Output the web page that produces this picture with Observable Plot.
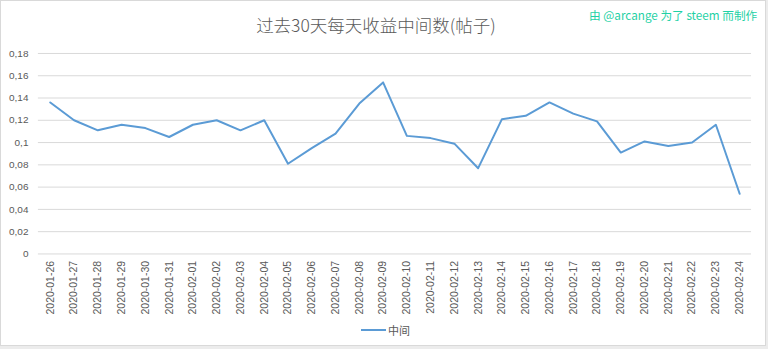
<!DOCTYPE html>
<html>
<head>
<meta charset="utf-8">
<script src="https://cdn.jsdelivr.net/npm/d3@7"></script>
<script src="https://cdn.jsdelivr.net/npm/@observablehq/plot@0.6"></script>
<style>
  html, body { margin: 0; padding: 0; background: #ececec; }
  #wrap { position: relative; width: 766px; height: 346px; background: #fff; overflow: hidden; }
  #frame { position: absolute; left: 0; top: 0; width: 766px; height: 346px; box-sizing: border-box; border: 1px solid #d9d9d9; pointer-events: none; }
  #title { position: absolute; left: 0; top: 13px; width: 752px; text-align: center; font: 300 17.5px "Noto Sans CJK SC", sans-serif; line-height: 24px; color: #595959; }
  #credit { position: absolute; left: 589px; top: 6px; font: 11.7px "Noto Sans CJK SC", sans-serif; line-height: 18px; color: #1fd1a5; white-space: pre; }
  #chart { position: absolute; left: 0; top: 40px; }
  #legend { position: absolute; left: 0; top: 315px; width: 771px; height: 30px; display: flex; justify-content: center; align-items: center; font: 11px "Noto Sans CJK SC", sans-serif; color: #595959; }
  #legend .sw { width: 25px; height: 2px; background: #5b9bd5; margin-right: 2px; }
</style>
</head>
<body>
<div id="wrap">
  <div id="title">过去30天每天收益中间数(帖子)</div>
  <div id="credit">由 @arcange 为了 steem 而制作</div>
  <div id="chart"></div>
  <div id="legend"><span class="sw"></span><span>中间</span></div>
  <div id="frame"></div>
</div>
<script>
const dates = [
  "2020-01-26","2020-01-27","2020-01-28","2020-01-29","2020-01-30","2020-01-31",
  "2020-02-01","2020-02-02","2020-02-03","2020-02-04","2020-02-05","2020-02-06",
  "2020-02-07","2020-02-08","2020-02-09","2020-02-10","2020-02-11","2020-02-12",
  "2020-02-13","2020-02-14","2020-02-15","2020-02-16","2020-02-17","2020-02-18",
  "2020-02-19","2020-02-20","2020-02-21","2020-02-22","2020-02-23","2020-02-24"
];
const medianValues = [
  0.136, 0.120, 0.111, 0.116, 0.113, 0.105,
  0.116, 0.120, 0.111, 0.120, 0.081, 0.095,
  0.108, 0.135, 0.154, 0.106, 0.104, 0.099,
  0.077, 0.121, 0.124, 0.136, 0.126, 0.119,
  0.091, 0.101, 0.097, 0.100, 0.116, 0.054
];
const yTicks = [0, 0.02, 0.04, 0.06, 0.08, 0.1, 0.12, 0.14, 0.16, 0.18];

const data = dates.map((d, i) => ({date: d, value: medianValues[i]}));
const fmt = v => v === 0 ? "0" : String(+v.toFixed(2)).replace(".", ",");

const chart = Plot.plot({
  width: 768,
  height: 275,
  marginTop: 13,
  marginBottom: 61,
  marginLeft: 38,
  marginRight: 15,
  style: {background: "transparent", fontFamily: "'Liberation Sans', Arial, sans-serif", color: "#595959"},
  x: {type: "point", domain: dates, padding: 0.5, round: false},
  y: {domain: [0, 0.18]},
  marks: [
    Plot.ruleY(yTicks, {stroke: "#d9d9d9", strokeWidth: 1}),
    Plot.axisY({ticks: yTicks, tickFormat: fmt, tickSize: 0, tickPadding: 10, fontSize: 10, fill: "#595959", label: null}),
    Plot.axisX({tickRotate: -90, tickSize: 0, tickPadding: 7, fontSize: 10.5, fill: "#595959", label: null}),
    Plot.line(data, {x: "date", y: "value", stroke: "#5b9bd5", strokeWidth: 2, strokeLinejoin: "round"})
  ]
});
document.getElementById("chart").appendChild(chart);
</script>
</body>
</html>
